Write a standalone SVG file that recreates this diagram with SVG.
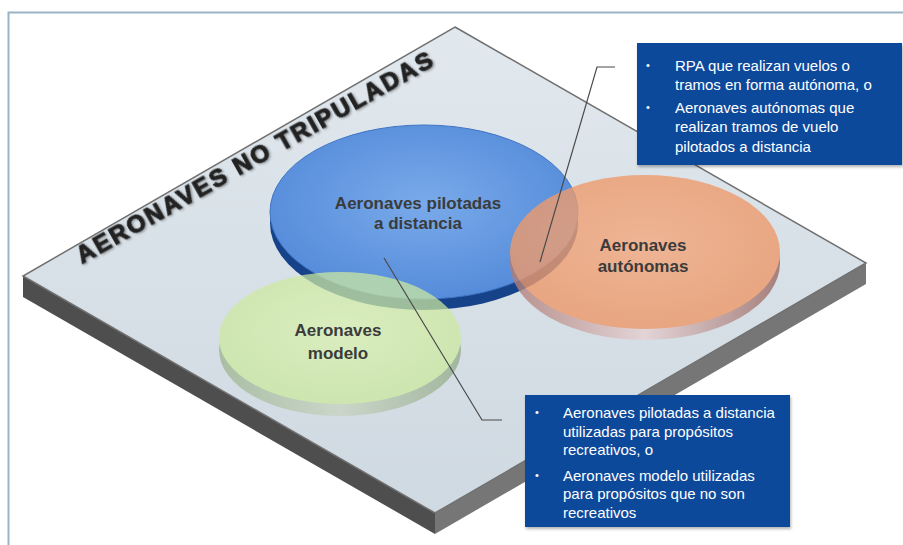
<svg xmlns="http://www.w3.org/2000/svg" width="903" height="545" viewBox="0 0 903 545">
<defs>
<style>
.lbl{font-family:"Liberation Sans",Arial,sans-serif;font-weight:bold;font-size:17px;fill:#3b3b3b;text-anchor:middle}
.bt{font-family:"Liberation Sans",Arial,sans-serif;font-size:15px;fill:#ffffff}
.bul{font-family:"Liberation Sans",Arial,sans-serif;font-size:11px;fill:#ffffff}
.box{fill:#0b4a9b}
.conn{fill:none;stroke:#4a4a4a;stroke-width:1.2}
</style>
<linearGradient id="gTop" x1="0" y1="0" x2="0" y2="1">
<stop offset="0" stop-color="#e1e8ee"/><stop offset="1" stop-color="#cfd9e1"/>
</linearGradient>
<radialGradient id="gBlue" cx="0.5" cy="0.45" r="0.6">
<stop offset="0" stop-color="#79aaea"/><stop offset="1" stop-color="#5289d8"/>
</radialGradient>
<radialGradient id="gOr" cx="0.5" cy="0.45" r="0.6">
<stop offset="0" stop-color="#f4aa80"/><stop offset="1" stop-color="#ec9666"/>
</radialGradient>
<radialGradient id="gGr" cx="0.5" cy="0.45" r="0.6">
<stop offset="0" stop-color="#dcf3b0"/><stop offset="1" stop-color="#c9e89a"/>
</radialGradient>
<linearGradient id="gOrRim" x1="0" y1="0" x2="1" y2="0">
<stop offset="0" stop-color="#b07c76"/><stop offset="0.5" stop-color="#e6d2d4"/><stop offset="1" stop-color="#9a6862"/>
</linearGradient>
<linearGradient id="gGrRim" x1="0" y1="0" x2="1" y2="0">
<stop offset="0" stop-color="#9bb38c"/><stop offset="0.5" stop-color="#c8d4c0"/><stop offset="1" stop-color="#8fa884"/>
</linearGradient>
<filter id="sh" x="-10%" y="-10%" width="120%" height="130%">
<feDropShadow dx="1" dy="1.5" stdDeviation="1.2" flood-color="#000" flood-opacity="0.35"/>
</filter>
<filter id="bsh" x="-5%" y="-5%" width="110%" height="115%">
<feDropShadow dx="1" dy="2" stdDeviation="1.5" flood-color="#000" flood-opacity="0.3"/>
</filter>
</defs>
<rect x="0" y="0" width="903" height="545" fill="#ffffff"/>
<rect x="8.5" y="12.5" width="900" height="540" fill="none" stroke="#9bb3c4" stroke-width="2"/>

<g id="platform">
<polygon points="23,276 435,513 435,534 23,297" fill="#4e4e4e"/>
<polygon points="435,513 866,263 866,284 435,534" fill="#767676"/>
<polygon points="455,27 866,263 435,513 23,276" fill="url(#gTop)" stroke="#707070" stroke-width="1.5"/>
<text transform="translate(82,264) rotate(-29.4)" textLength="405" lengthAdjust="spacing" font-family="'Liberation Sans',Arial,sans-serif" font-weight="bold" font-size="24" fill="#222" stroke="#222" stroke-width="1.1" filter="url(#sh)">AERONAVES NO TRIPULADAS</text>
</g>

<g id="node-pilotadas">
<ellipse cx="424" cy="223" rx="154" ry="87" fill="#16428a"/>
<ellipse cx="424" cy="212" rx="154" ry="87" fill="url(#gBlue)" stroke="#3f74c4" stroke-width="1"/>
<text class="lbl" x="418" y="209">Aeronaves pilotadas</text>
<text class="lbl" x="418" y="229">a distancia</text>
</g>

<g id="node-modelo" opacity="0.72">
<ellipse cx="340" cy="350" rx="121" ry="66" fill="url(#gGrRim)"/>
<ellipse cx="340" cy="338" rx="121" ry="66" fill="url(#gGr)"/>
</g>
<g id="node-modelo-label">
<text class="lbl" x="338" y="336">Aeronaves</text>
<text class="lbl" x="338" y="359">modelo</text>
</g>

<g id="node-autonomas" opacity="0.8">
<ellipse cx="645" cy="263" rx="135" ry="77" fill="url(#gOrRim)"/>
<ellipse cx="645" cy="252" rx="135" ry="77" fill="url(#gOr)"/>
</g>
<g id="node-autonomas-label">
<text class="lbl" x="643" y="251">Aeronaves</text>
<text class="lbl" x="643" y="272">autónomas</text>
</g>

<g id="connectors">
<polyline class="conn" points="615,67 597,67 540,262"/>
<polyline class="conn" points="384,258 482,420 502,420"/>
</g>

<g id="callout-top">
<rect class="box" x="637" y="43" width="265" height="122" filter="url(#bsh)"/>
<text class="bul" x="646" y="69">•</text>
<text class="bt" x="675" y="71">RPA que realizan vuelos o</text>
<text class="bt" x="675" y="90">tramos en forma autónoma, o</text>
<text class="bul" x="646" y="111">•</text>
<text class="bt" x="675" y="113">Aeronaves autónomas que</text>
<text class="bt" x="675" y="132">realizan tramos de vuelo</text>
<text class="bt" x="675" y="152">pilotados a distancia</text>
</g>

<g id="callout-bottom">
<rect class="box" x="525" y="395" width="265" height="132" filter="url(#bsh)"/>
<text class="bul" x="535" y="416">•</text>
<text class="bt" x="563" y="418">Aeronaves pilotadas a distancia</text>
<text class="bt" x="563" y="437">utilizadas para propósitos</text>
<text class="bt" x="563" y="455">recreativos, o</text>
<text class="bul" x="535" y="479">•</text>
<text class="bt" x="563" y="481">Aeronaves modelo utilizadas</text>
<text class="bt" x="563" y="499">para propósitos que no son</text>
<text class="bt" x="563" y="518">recreativos</text>
</g>
</svg>
